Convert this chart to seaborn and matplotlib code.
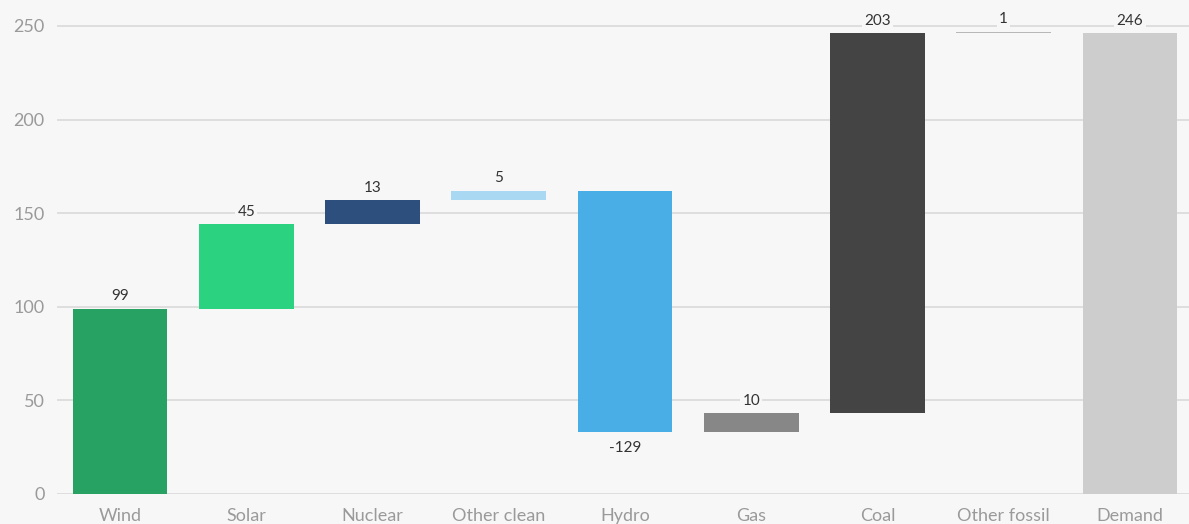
import numpy as np
import matplotlib
matplotlib.use('Agg')
import matplotlib.pyplot as plt
import seaborn as sns

# 발전원별 변화량 (waterfall)
categories = ['Wind', 'Solar', 'Nuclear', 'Other clean', 'Hydro', 'Gas', 'Coal', 'Other fossil', 'Demand']
changes = [99, 45, 13, 5, -129, 10, 203, 1]
demand = 246
yticks = [0, 50, 100, 150, 200, 250]

colors = ['#27a262', '#2bd27f', '#2c4f7e', '#a9d9f2', '#4aaee6', '#878787', '#444444', '#b8b8b8', '#cdcdcd']

# 누적값으로 막대 시작점 계산
ends = np.cumsum(changes)
starts = ends - np.array(changes)
bottoms = list(np.minimum(starts, ends)) + [0]
spans = list(np.abs(changes)) + [demand]
labels = [str(v) for v in changes] + [str(demand)]

sns.set_style('white')
plt.rcParams['font.family'] = ['Lato', 'DejaVu Sans']

bg = '#f7f7f7'
fig = plt.figure(figsize=(11.89, 5.24), dpi=100, facecolor=bg)
ax = fig.add_axes([0.0479, 0.0573, 0.9555, 0.911])
ax.set_facecolor(bg)

sns.barplot(x=categories, y=spans, bottom=bottoms, width=0.75, color='#888888',
            linewidth=0, ax=ax, zorder=3)
for p, c in zip(ax.patches, colors):
    p.set_facecolor(c)

# 값 라벨
for i, (b, s, lab) in enumerate(zip(bottoms, spans, labels)):
    neg = lab.startswith('-')
    y = b if neg else b + s
    ax.annotate(lab.replace('-', '\u2212') if False else lab, (i, y),
                xytext=(0, -6 if neg else 4), textcoords='offset points',
                ha='center', va='top' if neg else 'bottom', fontsize=11, color='#333333',
                bbox=dict(boxstyle='square,pad=0.15', fc=bg, ec='none'), zorder=4)

ax.set_ylim(0, 255)
ax.set_xlim(-0.5, 8.5)
ax.set_yticks(yticks)
ax.yaxis.grid(True, color='#d9d9d9', linewidth=1.2, zorder=0)
ax.set_axisbelow(True)
for sp in ax.spines.values():
    sp.set_visible(False)
ax.tick_params(axis='y', length=0, pad=9, labelsize=13, labelcolor='#9a9a9a')
ax.tick_params(axis='x', length=4, width=1, color='#c8c8c8', pad=6, labelsize=13, labelcolor='#9a9a9a')

fig.savefig('out.png', dpi=100, facecolor=bg)
